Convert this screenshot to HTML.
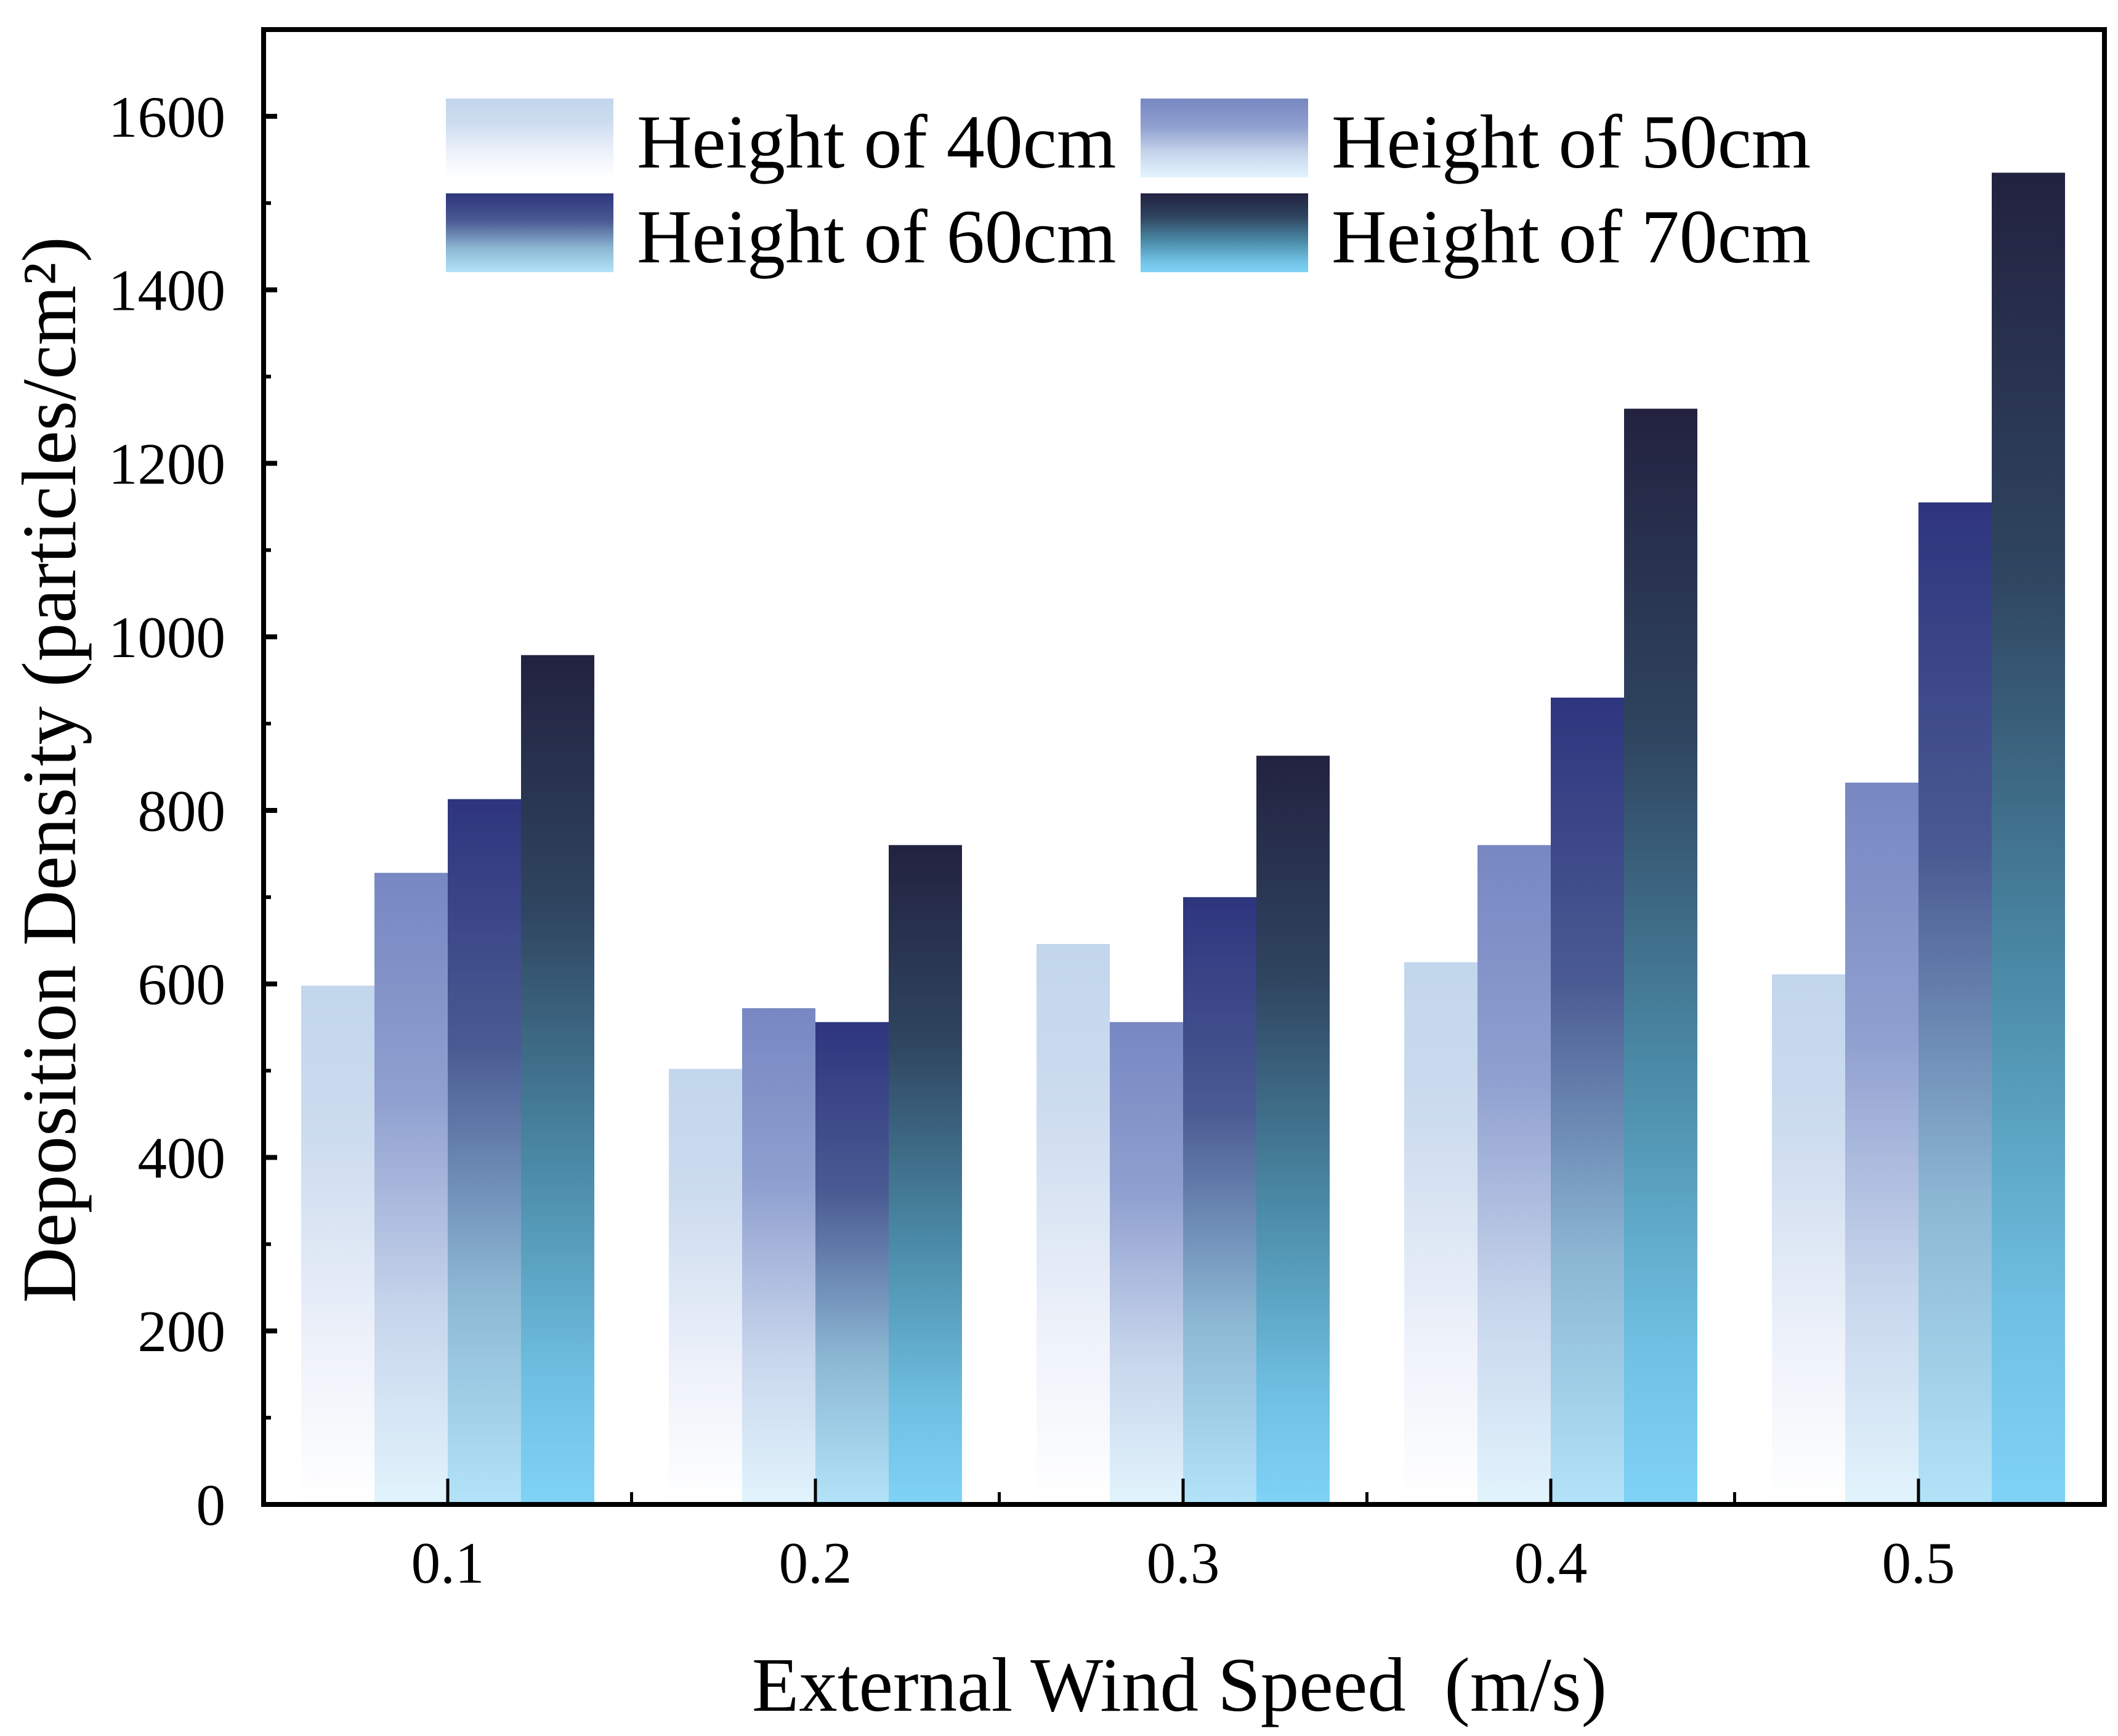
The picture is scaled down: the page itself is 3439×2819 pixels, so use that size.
<!DOCTYPE html>
<html><head><meta charset="utf-8"><style>
html,body{margin:0;padding:0;background:#fff}
svg{display:block;font-family:"Liberation Serif",serif}
</style></head><body>
<svg id="chart" width="3439" height="2819" viewBox="0 0 3439 2819" xmlns="http://www.w3.org/2000/svg">
<defs>
<linearGradient id="g0" x1="0" y1="0" x2="0" y2="1"><stop offset="0" stop-color="#c2d6ec"/><stop offset="0.3" stop-color="#cddcef"/><stop offset="0.7" stop-color="#eef2fa"/><stop offset="1" stop-color="#ffffff"/></linearGradient>
<linearGradient id="g1" x1="0" y1="0" x2="0" y2="1"><stop offset="0" stop-color="#7787c2"/><stop offset="0.35" stop-color="#8f9fcf"/><stop offset="0.7" stop-color="#c8d6ec"/><stop offset="1" stop-color="#e2f4fd"/></linearGradient>
<linearGradient id="g2" x1="0" y1="0" x2="0" y2="1"><stop offset="0" stop-color="#2e357e"/><stop offset="0.35" stop-color="#4a5a92"/><stop offset="0.7" stop-color="#8db8d4"/><stop offset="1" stop-color="#b3e3f9"/></linearGradient>
<linearGradient id="g3" x1="0" y1="0" x2="0" y2="1"><stop offset="0" stop-color="#222240"/><stop offset="0.3" stop-color="#2f4560"/><stop offset="0.6" stop-color="#4a8aa6"/><stop offset="0.85" stop-color="#6fbfe2"/><stop offset="1" stop-color="#7fd3f7"/></linearGradient>
</defs>
<g id="bars"></g>
<g id="axes"></g>
<g id="legend"></g>
<text transform="translate(122,1250) rotate(-90)" text-anchor="middle" font-size="125">Deposition Density (particles/cm²)</text>
<text x="1915" y="2778" text-anchor="middle" font-size="125" xml:space="preserve">External Wind Speed  (m/s)</text>
</svg>
<script>
const categories = ["0.1","0.2","0.3","0.4","0.5"];
const series = ["Height of 40cm","Height of 50cm","Height of 60cm","Height of 70cm"];
const h40 = [598, 502, 646, 625, 611];
const h50 = [728, 572, 556, 760, 832];
const h60 = [813, 556, 700, 930, 1155];
const h70 = [979, 760, 863, 1263, 1535];
const yTicks = [0, 200, 400, 600, 800, 1000, 1200, 1400, 1600];

const NS = "http://www.w3.org/2000/svg";
const L = 428, R = 3417, T = 48, B = 2443;
const yMax = 1700;
const step = 597;
const c0 = 727;
const bw = 119;
function xc(i){ return c0 + step * i; }
function y(v){ return B - v * (B - T) / yMax; }
function mk(tag, attrs, parent){ const e = document.createElementNS(NS, tag); for (const k in attrs) e.setAttribute(k, attrs[k]); parent.appendChild(e); return e; }

const bars = document.getElementById("bars");
const all = [h40, h50, h60, h70];
all.forEach((arr, s) => {
  arr.forEach((v, i) => {
    const x = xc(i) - 2 * bw + s * bw;
    const r = mk("rect", {x: x, y: y(v), width: bw, height: B - y(v), fill: "url(#g" + s + ")"}, bars);
    
    
  });
});

const ax = document.getElementById("axes");
const frame = mk("rect", {x: L, y: T, width: R - L, height: B - T, fill: "none", stroke: "#000", "stroke-width": 8}, ax);


yTicks.forEach(v => {
  mk("line", {x1: L, x2: L + 22, y1: y(v), y2: y(v), stroke: "#000", "stroke-width": 8}, ax);
  const mv = v + 100;
  if (mv < yMax) mk("line", {x1: L, x2: L + 12, y1: y(mv), y2: y(mv), stroke: "#000", "stroke-width": 6}, ax);
  const t = mk("text", {x: 366, y: y(v) + 33, "text-anchor": "end", "font-size": 95}, ax);
  t.textContent = v;
  
  
});
categories.forEach((c, i) => {
  mk("line", {x1: xc(i), x2: xc(i), y1: B, y2: B - 42, stroke: "#000", "stroke-width": 5}, ax);
  if (i > 0) mk("line", {x1: xc(i) - step / 2, x2: xc(i) - step / 2, y1: B, y2: B - 20, stroke: "#000", "stroke-width": 5}, ax);
  const t = mk("text", {x: xc(i), y: 2570, "text-anchor": "middle", "font-size": 95}, ax);
  t.textContent = c;
  
  
});

const lg = document.getElementById("legend");
const pos = [[724, 160], [1852, 160], [724, 314], [1852, 314]];
series.forEach((s, k) => {
  const g = mk("g", {}, lg);
  
  
  mk("rect", {x: pos[k][0], y: pos[k][1], width: 272, height: 128, fill: "url(#g" + k + ")"}, g);
  const t = mk("text", {x: pos[k][0] + 310, y: pos[k][1] + 112, "font-size": 124}, g);
  t.textContent = s;
});
</script>
</body></html>
